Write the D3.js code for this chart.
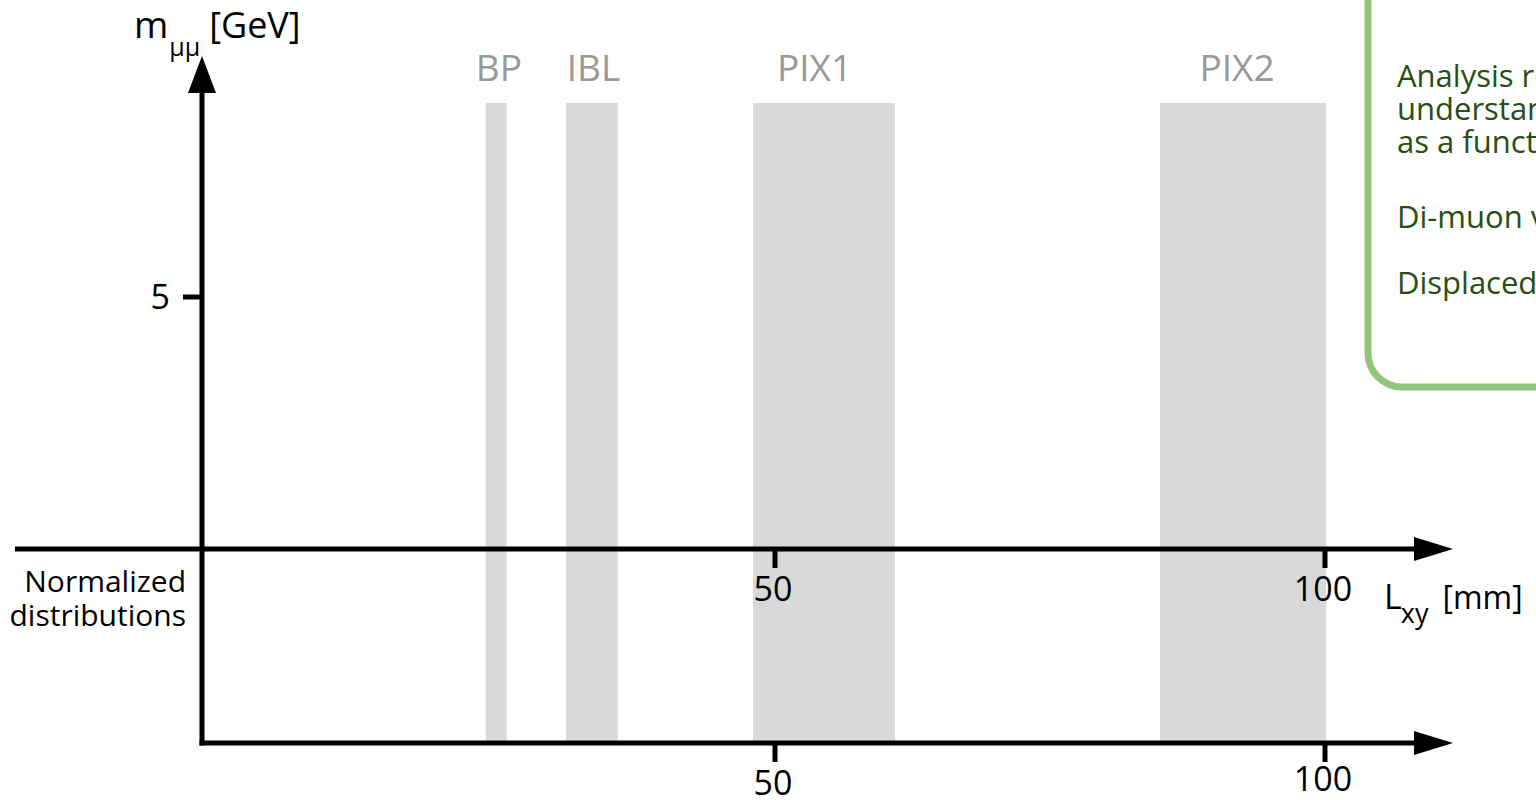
<!DOCTYPE html>
<html><head><meta charset="utf-8">
<script src="https://cdn.jsdelivr.net/npm/d3@7"></script>
<style>
html,body{margin:0;padding:0;background:#fff;overflow:hidden;}
svg{display:block;font-family:"Open Sans",sans-serif;}
</style></head>
<body>
<svg id="c" width="1536" height="800"></svg>
<script>
// ---- data ----
const layerNames = ["BP", "IBL", "PIX1", "PIX2"];
const layerStart = [23.7, 31.0, 48.0, 85.0];   // mm
const layerEnd   = [25.6, 35.7, 60.9, 100.1];  // mm
const layerLabelAt = [24.9, 33.5, 53.6, 92.0]; // mm
const xTicks = [50, 100];
const yTicks = [5];
const boxLines = [
  "Analysis requires a good",
  "understanding of backgrounds",
  "as a function of Lxy and mμμ",
  "Di-muon vertices",
  "Displaced vertices"
];

const svg = d3.select("#c");
const x = d3.scaleLinear().domain([0, 100]).range([225, 1325]);
const y = d3.scaleLinear().domain([0, 5]).range([549, 297]);
const yAxisX = 202, midY = y(0), botY = 743, bandTop = 103;

// bands
layerNames.forEach((n, i) => {
  svg.append("rect").attr("x", x(layerStart[i])).attr("y", bandTop)
    .attr("width", x(layerEnd[i]) - x(layerStart[i])).attr("height", botY - bandTop)
    .attr("fill", "#d9d9d9");
  svg.append("text").attr("x", x(layerLabelAt[i])).attr("y", 81)
    .attr("text-anchor", "middle").attr("fill", "#999999").attr("font-size", 37)
    .text(n);
});

const ax = svg.append("g").attr("stroke", "#000").attr("stroke-width", 5).attr("fill", "none");
// vertical axis
ax.append("line").attr("x1", yAxisX).attr("x2", yAxisX).attr("y1", botY + 2.5).attr("y2", 88);
svg.append("path").attr("d", `M${yAxisX},56 L${yAxisX - 14},93 L${yAxisX + 14},93 Z`).attr("fill", "#000");
// middle axis
ax.append("line").attr("x1", 15).attr("x2", 1420).attr("y1", midY).attr("y2", midY);
svg.append("path").attr("d", `M1453,${midY} L1414,${midY - 12} L1414,${midY + 12} Z`).attr("fill", "#000");
// bottom axis
ax.append("line").attr("x1", yAxisX - 2.5).attr("x2", 1420).attr("y1", botY).attr("y2", botY);
svg.append("path").attr("d", `M1453,${botY} L1414,${botY - 12} L1414,${botY + 12} Z`).attr("fill", "#000");

// ticks
xTicks.forEach((t, i) => {
  ax.append("line").attr("x1", x(t)).attr("x2", x(t)).attr("y1", midY).attr("y2", midY + 19);
  ax.append("line").attr("x1", x(t)).attr("x2", x(t)).attr("y1", botY).attr("y2", botY + 19);
  svg.append("text").attr("x", x(t) - 2).attr("y", 601).attr("text-anchor", "middle")
    .attr("font-size", 34).attr("fill", "#000").text(t);
  svg.append("text").attr("x", x(t) - 2).attr("y", i === 0 ? 795 : 791).attr("text-anchor", "middle")
    .attr("font-size", 34).attr("fill", "#000").text(t);
});
yTicks.forEach(t => {
  ax.append("line").attr("x1", yAxisX - 19).attr("x2", yAxisX).attr("y1", y(t)).attr("y2", y(t));
  svg.append("text").attr("x", 170).attr("y", y(t) + 12).attr("text-anchor", "end")
    .attr("font-size", 34).attr("fill", "#000").text(t);
});

// axis titles
const yt = svg.append("text").attr("x", 134).attr("y", 38).attr("font-size", 37).attr("fill", "#000");
yt.append("tspan").text("m");
yt.append("tspan").attr("font-size", 25).attr("dy", 18).attr("dx", 1).text("μμ");
yt.append("tspan").attr("dy", -18).attr("dx", 9).attr("font-size", 36).text("[GeV]");

const xt = svg.append("text").attr("x", 1384).attr("y", 609).attr("font-size", 34).attr("fill", "#000");
xt.append("tspan").text("L");
xt.append("tspan").attr("font-size", 27).attr("dy", 14).attr("dx", -1).text("xy");
xt.append("tspan").attr("dy", -14).attr("dx", 14).attr("font-size", 32).text("[mm]");

svg.append("text").attr("x", 186).attr("y", 592).attr("text-anchor", "end").attr("font-size", 30).text("Normalized");
svg.append("text").attr("x", 186).attr("y", 626).attr("text-anchor", "end").attr("font-size", 30).text("distributions");

// green box
svg.append("rect").attr("x", 1368).attr("y", -40).attr("width", 400).attr("height", 427)
  .attr("rx", 34).attr("fill", "#fff").attr("stroke", "#93c47d").attr("stroke-width", 7);
const boxText = svg.append("text").attr("font-size", 31).attr("fill", "#274e13");
const lineY = [87, 120, 153, 228, 294];
boxLines.forEach((t, i) => {
  boxText.append("tspan").attr("x", 1397).attr("y", lineY[i]).text(t);
});
</script>
</body></html>
